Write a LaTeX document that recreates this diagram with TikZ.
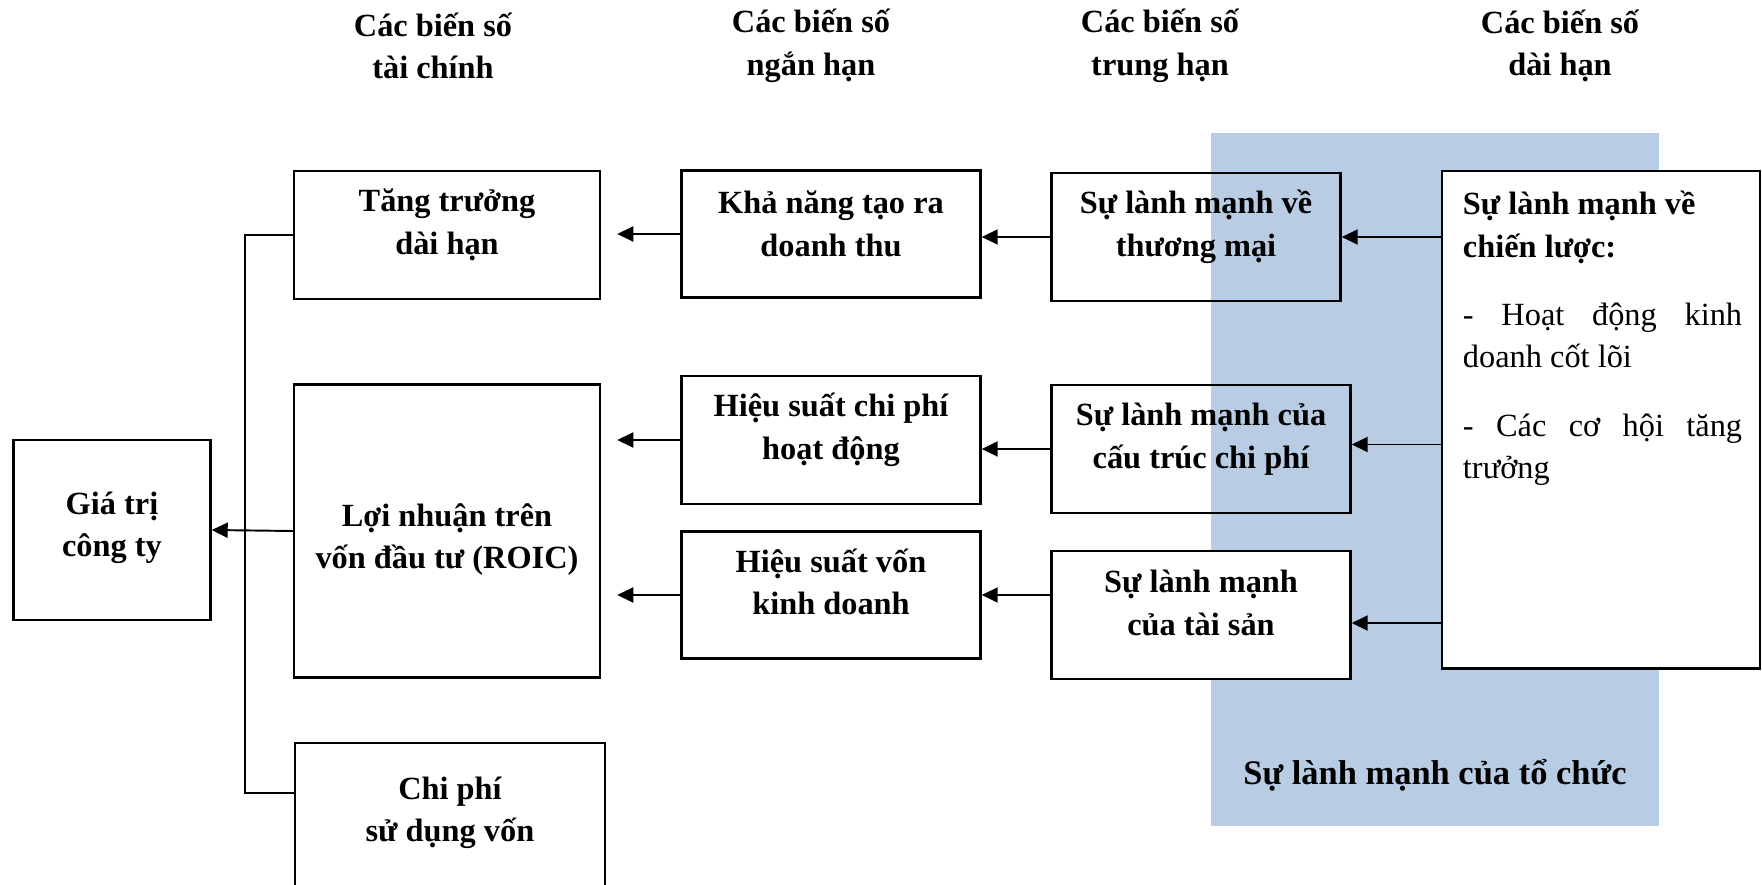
\documentclass[tikz,border=0pt]{standalone}
\usepackage{fontspec}
\setmainfont{Liberation Serif}
\usetikzlibrary{arrows.meta,positioning,calc}
\definecolor{orgblue}{RGB}{184,204,228}

\begin{document}
\begin{tikzpicture}[x=0.01cm,y=-0.01cm,>={Triangle[length=1.6mm,width=1.5mm]},
  box/.style={draw,line width=0.65pt},
  txt/.style={align=center,font=\fontsize{9.2}{12.1}\selectfont\bfseries,yshift=0.1cm},
  head/.style={align=center,font=\fontsize{9.2}{12.1}\selectfont\bfseries},
  link/.style={line width=0.55pt}]
\useasboundingbox (0,0) rectangle (1762,885);
\fill[orgblue] (1211,133) rectangle (1659,826);
% column headers
\node[head] (h1) at (433,46) {Các biến số\\tài chính};
\node[head] (h2) at (811,46) {Các biến số\\ngắn hạn};
\node[head] (h3) at (1160,46) {Các biến số\\trung hạn};
\node[head] (h4) at (1560,46) {Các biến số\\dài hạn};
% financial
\node[box,minimum width=1.97cm,minimum height=1.80cm,label={[txt,yshift=-0.08cm]center:Giá trị\\công ty}] (gia) at (112,530) {};
\node[box,minimum width=3.06cm,minimum height=1.28cm,label={[txt]center:Tăng trưởng\\dài hạn}] (tang) at (447,235) {};
\node[box,minimum width=3.06cm,minimum height=2.93cm,label={[txt,yshift=-0.185cm]center:Lợi nhuận trên\\vốn đầu tư (ROIC)}] (loi) at (447,531) {};
\node[box,minimum width=3.10cm,minimum height=1.60cm,label={[txt]center:Chi phí\\sử dụng vốn}] (chi) at (450,823) {};
% short term
\node[box,minimum width=2.99cm,minimum height=1.27cm,label={[txt]center:Khả năng tạo ra\\doanh thu}] (kha) at (831,234) {};
\node[box,minimum width=2.99cm,minimum height=1.28cm,label={[txt]center:Hiệu suất chi phí\\hoạt động}] (hscp) at (831,440) {};
\node[box,minimum width=2.99cm,minimum height=1.27cm,label={[txt,yshift=0.03cm]center:Hiệu suất vốn\\kinh doanh}] (hsv) at (831,595) {};
% medium term
\node[box,minimum width=2.89cm,minimum height=1.28cm,label={[txt]center:Sự lành mạnh về\\thương mại}] (tm) at (1196,237) {};
\node[box,minimum width=2.99cm,minimum height=1.28cm,label={[txt]center:Sự lành mạnh của\\cấu trúc chi phí}] (ct) at (1201,449) {};
\node[box,fill=white,minimum width=2.99cm,minimum height=1.28cm,label={[txt,yshift=0.02cm]center:Sự lành mạnh\\của tài sản}] (ts) at (1201,615) {};
% long term
\node[box,fill=white,minimum width=3.18cm,minimum height=4.97cm] (cl) at (1601,420) {};
\node[anchor=north west,text width=2.79cm,align=justify,inner sep=0pt,font=\fontsize{9.2}{12.1}\selectfont] (clt) at ([xshift=0.215cm,yshift=-0.20cm]cl.north west)
  {\parindent=0pt{\bfseries Sự lành mạnh về\newline chiến lược:}\par\vspace{7.3pt}
   - Hoạt động kinh\linebreak doanh cốt lõi\par\vspace{7.3pt}
   - Các cơ hội tăng\linebreak trưởng};
\node[head,font=\fontsize{9.8}{12.1}\selectfont\bfseries] (org) at (1435,775) {Sự lành mạnh của tổ chức};
% connectors
\coordinate (bus) at (245,793);
\draw[link] (tang.west) -| (bus) -- (bus -| chi.west);
\draw[link,->] (loi.west) -- (gia.east);
\draw[link,->,shorten >=0.16cm] (kha.west) -- (kha.west -| tang.east);
\draw[link,->,shorten >=0.16cm] (hscp.west) -- (hscp.west -| loi.east);
\draw[link,->,shorten >=0.16cm] (hsv.west) -- (hsv.west -| loi.east);
\draw[link,->] (tm.west) -- (tm.west -| kha.east);
\draw[link,->] (ct.west) -- (ct.west -| hscp.east);
\draw[link,->] (hsv.east -| ts.west) -- (hsv.east);
\draw[link,->] (tm.east -| cl.west) -- (tm.east);
\draw[link,->] ([yshift=0.045cm]ct.east -| cl.west) -- ([yshift=0.045cm]ct.east);
\draw[link,->] ([yshift=-0.08cm]ts.east -| cl.west) -- ([yshift=-0.08cm]ts.east);
\end{tikzpicture}
\end{document}
